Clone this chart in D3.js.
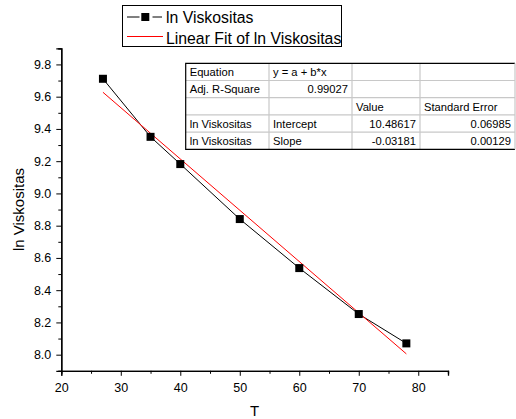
<!DOCTYPE html>
<html>
<head>
<meta charset="utf-8">
<script src="https://cdn.jsdelivr.net/npm/d3@7"></script>
<style>
  html, body { margin: 0; padding: 0; background: #fff; }
  svg { display: block; font-family: Arial, "Liberation Sans", sans-serif; }
</style>
</head>
<body>
<svg id="chart" width="516" height="419"></svg>
<script>
// Temperature (T) and natural log of viscosity
const temps = [27, 35, 40, 50, 60, 70, 78];
const lnVisc = [9.711, 9.351, 9.182, 8.841, 8.537, 8.252, 8.070];

// Linear fit parameters
const fitIntercept = 10.48617;
const fitSlope = -0.03181;

const xTicks = [20, 30, 40, 50, 60, 70, 80];
const yTicks = [8.0, 8.2, 8.4, 8.6, 8.8, 9.0, 9.2, 9.4, 9.6, 9.8];

const seriesName = "ln Viskositas";
const fitName = "Linear Fit of ln Viskositas";

// Fit report table rows
const tableRows = [
  ["Equation", "y = a + b*x", "", ""],
  ["Adj. R-Square", "0.99027", "", ""],
  ["", "", "Value", "Standard Error"],
  ["ln Viskositas", "Intercept", "10.48617", "0.06985"],
  ["ln Viskositas", "Slope", "-0.03181", "0.00129"]
];
// numeric cells are right aligned
const numericCell = (r, c) => /^-?[0-9.]+$/.test(tableRows[r][c]);

const svg = d3.select("#chart");

const x = d3.scaleLinear().domain([20, 85]).range([61.3, 448]);
const y = d3.scaleLinear().domain([7.9, 9.9]).range([370.8, 48.3]);

// Axes
const xAxis = d3.axisBottom(x).tickValues(xTicks).tickFormat(d3.format("d"))
  .tickSize(5).tickPadding(7);
const xMinor = d3.axisBottom(x).tickValues(d3.range(25, 86, 10)).tickFormat("").tickSize(3);
const yAxis = d3.axisLeft(y).tickValues(yTicks).tickFormat(d3.format(".1f"))
  .tickSize(5).tickPadding(5);
const yMinor = d3.axisLeft(y).tickValues(d3.range(7.9, 9.95, 0.2)).tickFormat("").tickSize(3);

function styleAxis(g) {
  g.select(".domain").attr("stroke", "#000").attr("stroke-width", 1.3);
  g.selectAll(".tick line").attr("stroke", "#000").attr("stroke-width", 1);
  g.selectAll(".tick text").attr("fill", "#000").style("font-size", "12.5px")
    .style("font-family", "Arial, 'Liberation Sans', sans-serif");
}

svg.append("g").attr("transform", `translate(0,${y.range()[0]})`).call(xMinor).call(styleAxis);
svg.append("g").attr("transform", `translate(0,${y.range()[0]})`).call(xAxis).call(styleAxis);
svg.append("g").attr("transform", `translate(${x.range()[0]},0)`).call(yMinor).call(styleAxis);
svg.append("g").attr("transform", `translate(${x.range()[0]},0)`).call(yAxis).call(styleAxis);

// Axis titles
svg.append("text")
  .attr("x", x(52.5)).attr("y", 416)
  .attr("text-anchor", "middle")
  .style("font-size", "15px")
  .text("T");
svg.append("text")
  .attr("transform", `translate(24,${y(8.9)}) rotate(-90)`)
  .attr("text-anchor", "middle")
  .style("font-size", "15px")
  .text(seriesName);

// Data series
const pts = temps.map((t, i) => ({ t, v: lnVisc[i] }));
svg.append("path")
  .datum(pts)
  .attr("fill", "none")
  .attr("stroke", "#000")
  .attr("stroke-width", 1)
  .attr("d", d3.line().x(d => x(d.t)).y(d => y(d.v)));

// Linear fit line
const fitX = d3.extent(temps);
svg.append("path")
  .datum(fitX)
  .attr("fill", "none")
  .attr("stroke", "#ff0000")
  .attr("stroke-width", 1)
  .attr("d", d3.line().x(d => x(d)).y(d => y(fitIntercept + fitSlope * d)));

const ms = 8;
svg.append("g").selectAll("rect").data(pts).join("rect")
  .attr("x", d => x(d.t) - ms / 2)
  .attr("y", d => y(d.v) - ms / 2)
  .attr("width", ms).attr("height", ms)
  .attr("fill", "#000");

// Legend
const lg = svg.append("g");
lg.append("rect").attr("x", 122.5).attr("y", 5.5).attr("width", 219).attr("height", 41)
  .attr("fill", "#fff").attr("stroke", "#000").attr("stroke-width", 1);
lg.append("line").attr("x1", 127).attr("x2", 139.5).attr("y1", 17).attr("y2", 17)
  .attr("stroke", "#000");
lg.append("line").attr("x1", 152.5).attr("x2", 162).attr("y1", 17).attr("y2", 17)
  .attr("stroke", "#000");
lg.append("rect").attr("x", 141.3).attr("y", 13).attr("width", 8).attr("height", 8).attr("fill", "#000");
lg.append("text").attr("x", 166).attr("y", 22.5).style("font-size", "15.8px").text(seriesName);
lg.append("line").attr("x1", 127).attr("x2", 163).attr("y1", 36.5).attr("y2", 36.5)
  .attr("stroke", "#ff0000");
lg.append("text").attr("x", 166).attr("y", 44).style("font-size", "15.8px").text(fitName);

// Fit report table
const colX = [185.7, 269, 352, 420, 515];
const rowY = d3.range(6).map(i => 63.3 + i * 17.2);
const tg = svg.append("g");
tg.append("rect").attr("x", colX[0]).attr("y", rowY[0])
  .attr("width", colX[4] - colX[0]).attr("height", rowY[5] - rowY[0])
  .attr("fill", "#fff");
// inner grid
tg.selectAll("line.h").data(rowY.slice(1, 5)).join("line")
  .attr("x1", colX[0]).attr("x2", colX[4]).attr("y1", d => d).attr("y2", d => d)
  .attr("stroke", "#c8c8c8").attr("stroke-width", 1.2);
tg.selectAll("line.v").data(colX.slice(1, 4)).join("line")
  .attr("x1", d => d).attr("x2", d => d).attr("y1", rowY[0]).attr("y2", rowY[5])
  .attr("stroke", "#c8c8c8").attr("stroke-width", 1.2);
// outer border
tg.append("path")
  .attr("d", `M${colX[4]},${rowY[0]}H${colX[0]}V${rowY[5]}H${colX[4]}`)
  .attr("fill", "none").attr("stroke", "#000").attr("stroke-width", 1.2);
tg.append("line").attr("x1", colX[4]).attr("x2", colX[4]).attr("y1", rowY[0]).attr("y2", rowY[5])
  .attr("stroke", "#c8c8c8").attr("stroke-width", 1.2);

tableRows.forEach((row, r) => {
  row.forEach((cell, c) => {
    if (!cell) return;
    const right = numericCell(r, c);
    tg.append("text")
      .attr("x", right ? colX[c + 1] - 4 : colX[c] + 4)
      .attr("y", rowY[r] + 12.8)
      .attr("text-anchor", right ? "end" : "start")
      .style("font-size", "11.2px")
      .text(cell);
  });
});
</script>
</body>
</html>
